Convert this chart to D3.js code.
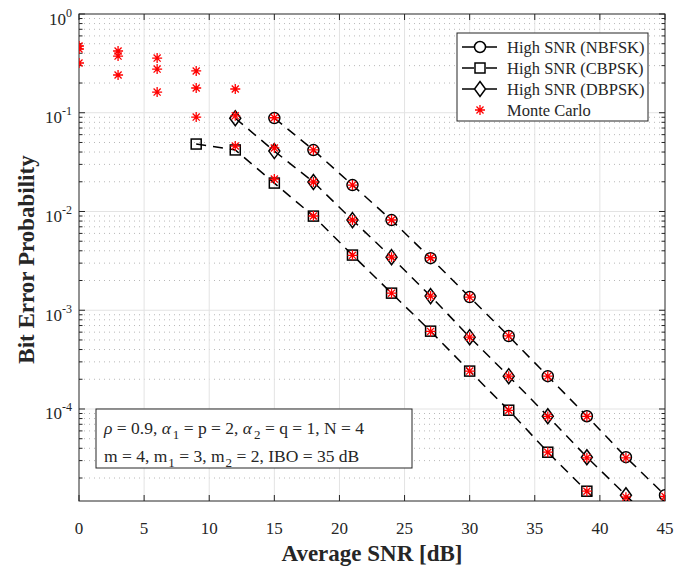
<!DOCTYPE html>
<html>
<head>
<meta charset="utf-8">
<script src="https://cdn.jsdelivr.net/npm/d3@7"></script>
<style>
  body { margin: 0; background: #fff; }
  svg text { font-family: "Liberation Serif", "Times New Roman", serif; fill: #262626; }
</style>
</head>
<body>
<svg id="chart" width="676" height="569"></svg>
<script>
// high SNR approximations (dashed with markers)
const snrNB = [15, 18, 21, 24, 27, 30, 33, 36, 39, 42, 45];
const berNB = [0.0883, 0.0419, 0.0185, 0.00818, 0.00337, 0.00136, 5.47e-4, 2.15e-4, 8.45e-5, 3.25e-5, 1.34e-5];

const snrCB = [9, 12, 15, 18, 21, 24, 27, 30, 33, 36, 39, 42, 45];
const berCB = [0.0482, 0.042, 0.0194, 0.00898, 0.00362, 0.00149, 6.14e-4, 2.42e-4, 9.72e-5, 3.65e-5, 1.47e-5, 5.9e-6, 2.3e-6];

const snrDB = [12, 15, 18, 21, 24, 27, 30, 33, 36, 39, 42, 45];
const berDB = [0.088, 0.0409, 0.0199, 0.00818, 0.00345, 0.00139, 5.34e-4, 2.15e-4, 8.45e-5, 3.25e-5, 1.34e-5, 5.3e-6];

// Monte Carlo simulation points
const snrMC = [0, 3, 6, 9, 12, 15, 18, 21, 24, 27, 30, 33, 36, 39, 42, 45];
const mcNB = [0.474, 0.422, 0.358, 0.265, 0.174, 0.089, 0.042, 0.0185, 0.0082, 0.0034, 0.00136, 5.5e-4, 2.15e-4, 8.4e-5, 3.2e-5, 1.3e-5];
const mcDB = [0.442, 0.375, 0.277, 0.178, 0.093, 0.044, 0.0199, 0.0082, 0.00345, 0.00139, 5.34e-4, 2.15e-4, 8.4e-5, 3.2e-5, 1.28e-5];
const mcCB = [0.319, 0.241, 0.162, 0.0904, 0.046, 0.0213, 0.009, 0.0036, 0.00149, 6.1e-4, 2.42e-4, 9.7e-5, 3.65e-5, 1.47e-5];

const xTicks = [0, 5, 10, 15, 20, 25, 30, 35, 40, 45];
const yExps = [0, -1, -2, -3, -4];
const legendLabels = ["High SNR (NBFSK)", "High SNR (CBPSK)", "High SNR (DBPSK)", "Monte Carlo"];

const svg = d3.select("#chart");
const pl = 79, pr = 665, pt = 14, pb = 501;

const x = d3.scaleLinear().domain([0, 45]).range([pl, pr]);
const y = d3.scaleLog().domain([1.17e-5, 1]).range([pb, pt]);

svg.append("defs").append("clipPath").attr("id", "clip")
  .append("rect").attr("x", pl).attr("y", pt).attr("width", pr - pl).attr("height", pb - pt);

// grid
const grid = svg.append("g");
const minorY = [];
for (let e = -5; e < 0; e++) {
  for (let k = 2; k <= 9; k++) {
    const v = k * Math.pow(10, e);
    if (v > 1.17e-5 && v < 1) minorY.push(v);
  }
}
grid.selectAll(".minor").data(minorY).enter().append("line")
  .attr("x1", pl).attr("x2", pr)
  .attr("y1", d => y(d)).attr("y2", d => y(d))
  .attr("stroke", "#b8b8b8").attr("stroke-width", 1).attr("stroke-dasharray", "1,4");
grid.selectAll(".majy").data(yExps.slice(1)).enter().append("line")
  .attr("x1", pl).attr("x2", pr)
  .attr("y1", d => y(Math.pow(10, d))).attr("y2", d => y(Math.pow(10, d)))
  .attr("stroke", "#e3e3e3").attr("stroke-width", 1);
grid.selectAll(".majx").data(xTicks.slice(1, -1)).enter().append("line")
  .attr("y1", pt).attr("y2", pb)
  .attr("x1", d => x(d)).attr("x2", d => x(d))
  .attr("stroke", "#e3e3e3").attr("stroke-width", 1);

// axes box and ticks
const axes = svg.append("g").attr("stroke", "#262626").attr("stroke-width", 1);
axes.append("rect").attr("x", pl).attr("y", pt).attr("width", pr - pl).attr("height", pb - pt)
  .attr("fill", "none");
xTicks.forEach(t => {
  axes.append("line").attr("x1", x(t)).attr("x2", x(t)).attr("y1", pb).attr("y2", pb - 6);
  axes.append("line").attr("x1", x(t)).attr("x2", x(t)).attr("y1", pt).attr("y2", pt + 6);
});
yExps.forEach(e => {
  const yy = y(Math.pow(10, e));
  axes.append("line").attr("x1", pl).attr("x2", pl + 6).attr("y1", yy).attr("y2", yy);
  axes.append("line").attr("x1", pr).attr("x2", pr - 6).attr("y1", yy).attr("y2", yy);
});
minorY.forEach(v => {
  axes.append("line").attr("x1", pl).attr("x2", pl + 3.5).attr("y1", y(v)).attr("y2", y(v));
  axes.append("line").attr("x1", pr).attr("x2", pr - 3.5).attr("y1", y(v)).attr("y2", y(v));
});

// tick labels
svg.selectAll(".xl").data(xTicks).enter().append("text")
  .attr("x", d => x(d)).attr("y", pb + 33)
  .attr("text-anchor", "middle").attr("font-size", 17).text(d => d);

yExps.forEach(e => {
  const t = svg.append("text").attr("x", 72).attr("y", y(Math.pow(10, e)) + 10.5)
    .attr("text-anchor", "end").attr("font-size", 17);
  t.append("tspan").text("10");
  t.append("tspan").attr("dy", -8).attr("font-size", 12).text(e === 0 ? "0" : "-" + (-e));
});

// axis labels
svg.append("text").attr("x", (pl + pr) / 2).attr("y", 561)
  .attr("text-anchor", "middle").attr("font-size", 23).attr("font-weight", "bold")
  .text("Average SNR [dB]");
svg.append("text").attr("transform", `translate(34, ${(pt + pb) / 2 + 2}) rotate(-90)`)
  .attr("text-anchor", "middle").attr("font-size", 23).attr("font-weight", "bold")
  .text("Bit Error Probability");

// markers
function drawMarker(g, type, cx, cy) {
  if (type === "circle") {
    g.append("circle").attr("cx", cx).attr("cy", cy).attr("r", 5.5)
      .attr("fill", "none").attr("stroke", "#000").attr("stroke-width", 1.5);
  } else if (type === "square") {
    g.append("rect").attr("x", cx - 5).attr("y", cy - 5).attr("width", 10).attr("height", 10)
      .attr("fill", "none").attr("stroke", "#000").attr("stroke-width", 1.5);
  } else if (type === "diamond") {
    g.append("path").attr("d", `M${cx},${cy - 7.5}L${cx + 5.5},${cy}L${cx},${cy + 7.5}L${cx - 5.5},${cy}Z`)
      .attr("fill", "none").attr("stroke", "#000").attr("stroke-width", 1.5);
  } else {
    const r = 5, s = r * 0.7071;
    g.append("path")
      .attr("d", `M${cx - r},${cy}L${cx + r},${cy}M${cx},${cy - r}L${cx},${cy + r}` +
        `M${cx - s},${cy - s}L${cx + s},${cy + s}M${cx - s},${cy + s}L${cx + s},${cy - s}`)
      .attr("stroke", "#ff0000").attr("stroke-width", 1.3).attr("fill", "none");
  }
}

const plot = svg.append("g").attr("clip-path", "url(#clip)");
const line = d3.line().x(d => x(d[0])).y(d => y(d[1]));

const theory = [
  { xs: snrNB, ys: berNB, marker: "circle" },
  { xs: snrCB, ys: berCB, marker: "square" },
  { xs: snrDB, ys: berDB, marker: "diamond" }
];
theory.forEach(s => {
  const pts = s.xs.map((v, i) => [v, s.ys[i]]);
  plot.append("path").attr("d", line(pts)).attr("fill", "none")
    .attr("stroke", "#000").attr("stroke-width", 1.5).attr("stroke-dasharray", "10,7");
});
theory.forEach(s => {
  s.xs.forEach((v, i) => drawMarker(plot, s.marker, x(v), y(s.ys[i])));
});
[mcNB, mcDB, mcCB].forEach(arr => {
  arr.forEach((v, i) => drawMarker(plot, "star", x(snrMC[i]), y(v)));
});

// legend
const lg = svg.append("g");
lg.append("rect").attr("x", 457).attr("y", 33).attr("width", 191).attr("height", 88)
  .attr("fill", "#fff").attr("stroke", "#262626").attr("stroke-width", 1);
const legMarkers = ["circle", "square", "diamond", "star"];
legendLabels.forEach((lab, i) => {
  const ly = 47 + i * 21;
  if (i < 3) {
    lg.append("line").attr("x1", 462).attr("x2", 497).attr("y1", ly).attr("y2", ly)
      .attr("stroke", "#000").attr("stroke-width", 1.5);
  }
  if (legMarkers[i] !== "star") {
    lg.append("rect").attr("x", 474).attr("y", ly - 7).attr("width", 12).attr("height", 14).attr("fill", "#fff");
  }
  drawMarker(lg, legMarkers[i], 480, ly);
  lg.append("text").attr("x", 507).attr("y", ly + 5.5).attr("font-size", 16.5).attr("fill", "#000").text(lab);
});

// parameter box
const pbox = svg.append("g");
pbox.append("rect").attr("x", 96).attr("y", 409).attr("width", 316).attr("height", 59)
  .attr("fill", "#fff").attr("stroke", "#262626").attr("stroke-width", 1);
const t1 = pbox.append("text").attr("x", 104).attr("y", 434).attr("font-size", 17.5).attr("fill", "#000");
t1.append("tspan").attr("font-style", "italic").text("ρ");
t1.append("tspan").text(" = 0.9, ");
t1.append("tspan").attr("font-style", "italic").text("α");
t1.append("tspan").attr("dx", 2).attr("dy", 5).attr("font-size", 13).text("1");
t1.append("tspan").attr("dy", -5).text(" = p = 2, ");
t1.append("tspan").attr("font-style", "italic").text("α");
t1.append("tspan").attr("dx", 2).attr("dy", 5).attr("font-size", 13).text("2");
t1.append("tspan").attr("dy", -5).text(" = q = 1, N = 4");
const t2 = pbox.append("text").attr("x", 104).attr("y", 462).attr("font-size", 17.5).attr("fill", "#000");
t2.append("tspan").text("m = 4, m");
t2.append("tspan").attr("dx", 1).attr("dy", 5).attr("font-size", 13).text("1");
t2.append("tspan").attr("dy", -5).text(" = 3, m");
t2.append("tspan").attr("dx", 1).attr("dy", 5).attr("font-size", 13).text("2");
t2.append("tspan").attr("dy", -5).text(" = 2, IBO = 35 dB");
</script>
</body>
</html>
